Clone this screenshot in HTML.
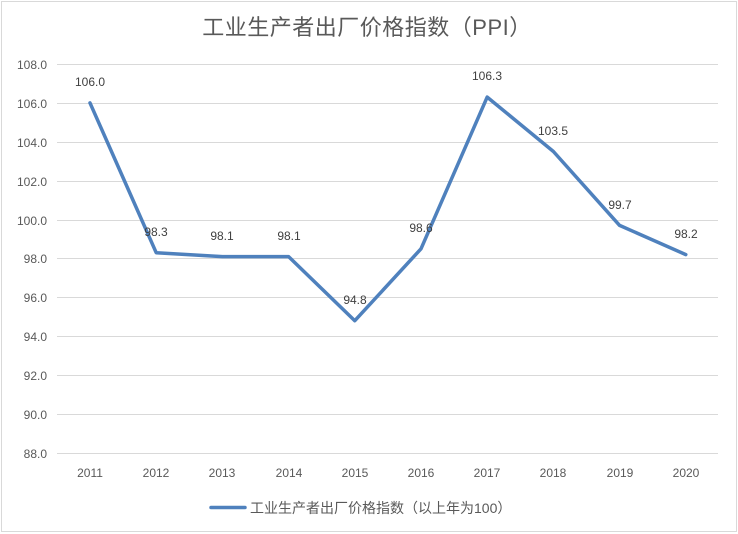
<!DOCTYPE html>
<html><head><meta charset="utf-8"><style>
html,body{margin:0;padding:0;background:#fff}
svg{display:block;font-family:"Liberation Sans","Noto Sans CJK SC",sans-serif}
</style></head><body>
<svg width="738" height="534" viewBox="0 0 738 534">
<rect x="1.5" y="1.5" width="735" height="530" fill="#fff" stroke="#d9d9d9"/>
<text x="367" y="35" font-size="22" fill="#595959" text-anchor="middle" letter-spacing="0.5">工业生产者出厂价格指数（PPI）</text>
<g stroke="#d9d9d9" stroke-width="1">
<line x1="57" x2="718" y1="64.5" y2="64.5"/>
<line x1="57" x2="718" y1="103.5" y2="103.5"/>
<line x1="57" x2="718" y1="142.5" y2="142.5"/>
<line x1="57" x2="718" y1="181.5" y2="181.5"/>
<line x1="57" x2="718" y1="220.5" y2="220.5"/>
<line x1="57" x2="718" y1="258.5" y2="258.5"/>
<line x1="57" x2="718" y1="297.5" y2="297.5"/>
<line x1="57" x2="718" y1="336.5" y2="336.5"/>
<line x1="57" x2="718" y1="375.5" y2="375.5"/>
<line x1="57" x2="718" y1="414.5" y2="414.5"/>
<line x1="57" x2="718" y1="453.5" y2="453.5"/>
</g>
<g font-size="12" fill="#595959" text-anchor="end">
<text x="47" y="69">108.0</text><text x="47" y="108">106.0</text><text x="47" y="147">104.0</text>
<text x="47" y="186">102.0</text><text x="47" y="225">100.0</text><text x="47" y="263">98.0</text>
<text x="47" y="302">96.0</text><text x="47" y="341">94.0</text><text x="47" y="380">92.0</text>
<text x="47" y="419">90.0</text><text x="47" y="458">88.0</text>
</g>
<g font-size="12" fill="#595959" text-anchor="middle">
<text x="90" y="477">2011</text><text x="156" y="477">2012</text><text x="222" y="477">2013</text>
<text x="289" y="477">2014</text><text x="355" y="477">2015</text><text x="421" y="477">2016</text>
<text x="487" y="477">2017</text><text x="553" y="477">2018</text><text x="620" y="477">2019</text>
<text x="686" y="477">2020</text>
</g>
<polyline fill="none" stroke="#4f81bd" stroke-width="3.5" stroke-linejoin="round" stroke-linecap="round"
points="90,102.9 156.2,252.7 222.4,256.6 288.6,256.6 354.8,320.7 421,248.8 487.2,97.1 553.4,151.5 619.6,225.4 685.8,254.6"/>
<g font-size="12" fill="#404040" text-anchor="middle">
<text x="90" y="86">106.0</text><text x="156" y="236">98.3</text><text x="222" y="240">98.1</text>
<text x="289" y="240">98.1</text><text x="355" y="304">94.8</text><text x="421" y="232">98.6</text>
<text x="487" y="80">106.3</text><text x="553" y="135">103.5</text><text x="620" y="209">99.7</text>
<text x="686" y="238">98.2</text>
</g>
<line x1="211" y1="507.5" x2="245" y2="507.5" stroke="#4f81bd" stroke-width="3.5" stroke-linecap="round"/>
<text x="250" y="513" font-size="14" fill="#595959">工业生产者出厂价格指数（以上年为100）</text>
</svg>
</body></html>
